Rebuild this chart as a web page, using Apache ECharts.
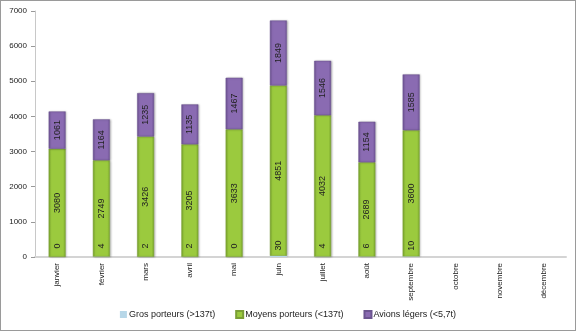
<!DOCTYPE html>
<html>
<head>
<meta charset="utf-8">
<script src="https://cdn.jsdelivr.net/npm/echarts@6/dist/echarts.min.js"></script>
<style>
  html, body { margin: 0; padding: 0; background: #fff; }
  #chart { width: 574px; height: 329px; border: 1px solid #9a9a9a; }
</style>
</head>
<body>
<div id="chart"></div>
<script>
// Monthly traffic by aircraft class
const months = ['janvier', 'février', 'mars', 'avril', 'mai', 'juin', 'juillet', 'août', 'septembre', 'octobre', 'novembre', 'décembre'];
const grosPorteurs = [0, 4, 2, 2, 0, 30, 4, 6, 10, null, null, null];
const moyensPorteurs = [3080, 2749, 3426, 3205, 3633, 4851, 4032, 2689, 3600, null, null, null];
const avionsLegers = [1061, 1164, 1235, 1135, 1467, 1849, 1546, 1154, 1585, null, null, null];
const yTicks = { min: 0, max: 7000, interval: 1000 };

const font = 'Liberation Sans, Arial, sans-serif';

function barGradient(mid, dark) {
  return new echarts.graphic.LinearGradient(0, 0, 1, 0, [
    { offset: 0, color: dark },
    { offset: 0.15, color: mid },
    { offset: 0.85, color: mid },
    { offset: 1, color: dark }
  ]);
}

const valueLabel = {
  show: true,
  rotate: 90,
  fontSize: 9,
  fontFamily: font,
  color: '#222'
};

const chart = echarts.init(document.getElementById('chart'), null, { renderer: 'canvas' });
chart.setOption({
  animation: false,
  grid: { left: 34, right: 9, top: 10, bottom: 73, containLabel: false },
  legend: {
    bottom: 6,
    left: 'center',
    itemWidth: 7,
    itemHeight: 7,
    itemGap: 20,
    icon: 'rect',
    textStyle: { fontSize: 9, fontFamily: font, color: '#222', padding: [0, 0, 0, -3] },
    data: ['Gros porteurs (>137t)', 'Moyens porteurs (<137t)', 'Avions légers (<5,7t)']
  },
  xAxis: {
    type: 'category',
    data: months,
    axisLine: { lineStyle: { color: '#d4d4d4', width: 2 } },
    axisTick: { show: false },
    axisLabel: { rotate: 90, fontSize: 8, fontFamily: font, color: '#222', margin: 6, interval: 0 }
  },
  yAxis: {
    type: 'value',
    min: yTicks.min,
    max: yTicks.max,
    interval: yTicks.interval,
    axisLine: { show: true, lineStyle: { color: '#c8c8c8' } },
    axisTick: { show: true, length: 4, lineStyle: { color: '#999' } },
    splitLine: { show: false },
    axisLabel: { fontSize: 8, fontFamily: font, color: '#222', margin: 8, formatter: v => String(v) }
  },
  series: [
    {
      name: 'Gros porteurs (>137t)',
      type: 'bar',
      stack: 'total',
      barWidth: 17,
      data: grosPorteurs,
      itemStyle: { color: '#b7d7e8' },
      label: Object.assign({}, valueLabel, { position: 'inside', offset: [11, 0] }),
      z: 3
    },
    {
      name: 'Moyens porteurs (<137t)',
      type: 'bar',
      stack: 'total',
      barWidth: 17,
      data: moyensPorteurs,
      itemStyle: {
        color: barGradient('#9bca3e', '#7aa72c'),
        borderColor: '#7a9e35',
        borderWidth: 0.5,
        shadowColor: 'rgba(0,0,0,0.25)',
        shadowBlur: 2,
        shadowOffsetX: 1
      },
      label: valueLabel
    },
    {
      name: 'Avions légers (<5,7t)',
      type: 'bar',
      stack: 'total',
      barWidth: 17,
      data: avionsLegers,
      itemStyle: {
        color: barGradient('#8a6bb2', '#6f5495'),
        borderColor: '#6c5590',
        borderWidth: 0.5,
        shadowColor: 'rgba(0,0,0,0.25)',
        shadowBlur: 2,
        shadowOffsetX: 1
      },
      label: valueLabel
    }
  ]
});
</script>
</body>
</html>
